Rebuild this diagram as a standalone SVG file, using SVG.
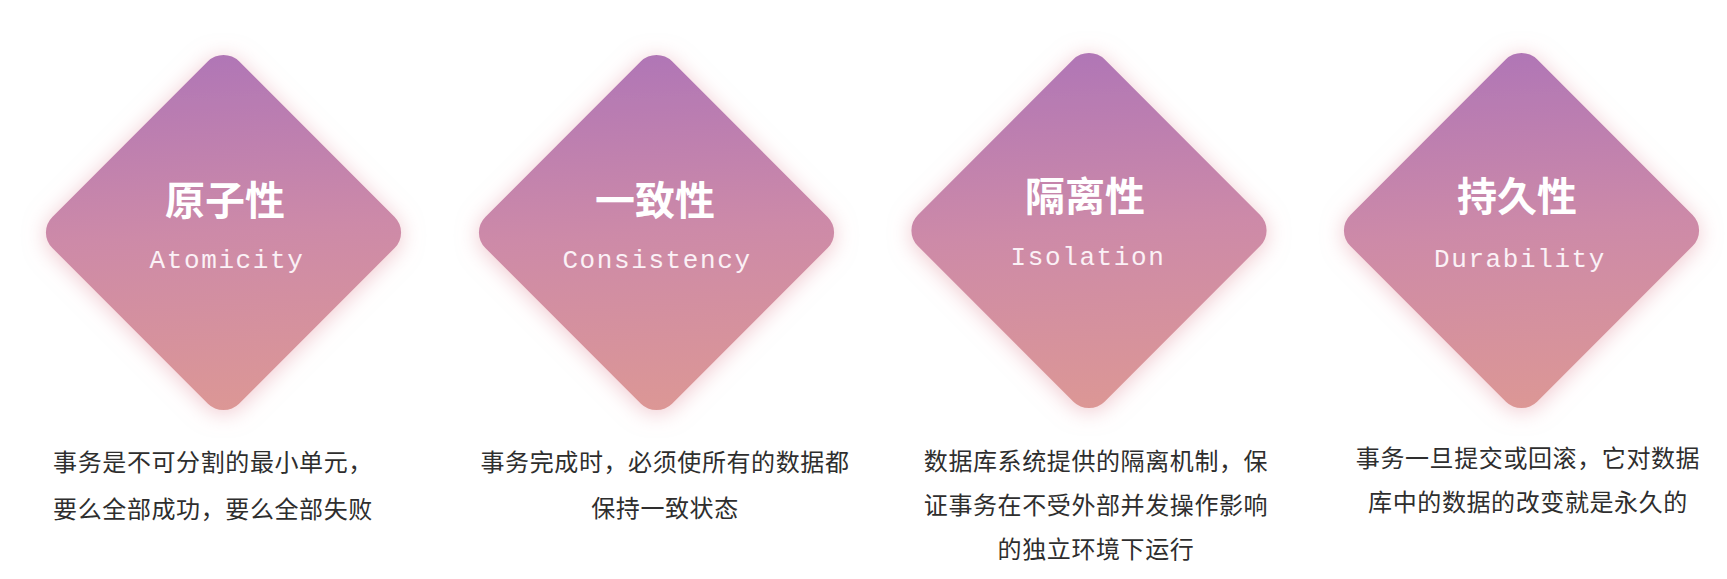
<svg xmlns="http://www.w3.org/2000/svg" xmlns:xlink="http://www.w3.org/1999/xlink" width="1727" height="579" viewBox="0 0 1727 579">
  <defs>
    <linearGradient id="grad" x1="0.47" y1="0" x2="0.53" y2="1">
      <stop offset="0" stop-color="#b076b6"/>
      <stop offset="0.5" stop-color="#cd8aa8"/>
      <stop offset="1" stop-color="#dc9795"/>
    </linearGradient>
    <filter id="glow" x="-25%" y="-25%" width="150%" height="150%">
      <feGaussianBlur in="SourceAlpha" stdDeviation="11" result="b"/>
      <feOffset in="b" dy="3" result="o"/>
      <feFlood flood-color="#e49aa5" flood-opacity="0.55"/>
      <feComposite in2="o" operator="in" result="s"/>
      <feMerge>
        <feMergeNode in="s"/>
        <feMergeNode in="SourceGraphic"/>
      </feMerge>
    </filter>
    <path id="dia" d="M -15.56,-171.14 A 22 22 0 0 1 15.56,-171.14 L 171.14,-15.56 A 22 22 0 0 1 171.14,15.56 L 15.56,171.14 A 22 22 0 0 1 -15.56,171.14 L -171.14,15.56 A 22 22 0 0 1 -171.14,-15.56 Z"/>
  </defs>
  <style>
    .diamond { fill: url(#grad); filter: url(#glow); }
    .title { font-family: "Noto Sans CJK SC", "Liberation Sans", sans-serif; font-weight: bold; font-size: 40px; fill: #ffffff; text-anchor: middle; }
    .sub { font-family: "Liberation Mono", monospace; font-size: 26px; fill: #fbf1f6; letter-spacing: 1.6px; text-anchor: middle; }
    .desc { font-family: "Noto Sans CJK SC", sans-serif; font-size: 24px; fill: #2e2e2e; letter-spacing: 0.6px; text-anchor: middle; }
  </style>
  <rect width="1727" height="579" fill="#ffffff"/>

  <g id="atomicity">
    <use xlink:href="#dia" href="#dia" class="diamond" transform="translate(223.5,232.5)"/>
    <text class="title" x="225" y="215">原子性</text>
    <text class="sub" x="227" y="268">Atomicity</text>
    <text class="desc" x="213" y="471">事务是不可分割的最小单元，</text>
    <text class="desc" x="213" y="518">要么全部成功，要么全部失败</text>
  </g>

  <g id="consistency">
    <use xlink:href="#dia" href="#dia" class="diamond" transform="translate(656.5,232.5)"/>
    <text class="title" x="655" y="215">一致性</text>
    <text class="sub" x="657" y="268">Consistency</text>
    <text class="desc" x="665" y="471">事务完成时，必须使所有的数据都</text>
    <text class="desc" x="665" y="517">保持一致状态</text>
  </g>

  <g id="isolation">
    <use xlink:href="#dia" href="#dia" class="diamond" transform="translate(1089,230.5)"/>
    <text class="title" x="1085" y="211">隔离性</text>
    <text class="sub" x="1088" y="265">Isolation</text>
    <text class="desc" x="1096" y="470">数据库系统提供的隔离机制，保</text>
    <text class="desc" x="1096" y="514">证事务在不受外部并发操作影响</text>
    <text class="desc" x="1096" y="558">的独立环境下运行</text>
  </g>

  <g id="durability">
    <use xlink:href="#dia" href="#dia" class="diamond" transform="translate(1521.5,230.5)"/>
    <text class="title" x="1517" y="211">持久性</text>
    <text class="sub" x="1520" y="267">Durability</text>
    <text class="desc" x="1528" y="467">事务一旦提交或回滚，它对数据</text>
    <text class="desc" x="1528" y="511">库中的数据的改变就是永久的</text>
  </g>

  <g id="connectors"></g>
</svg>
